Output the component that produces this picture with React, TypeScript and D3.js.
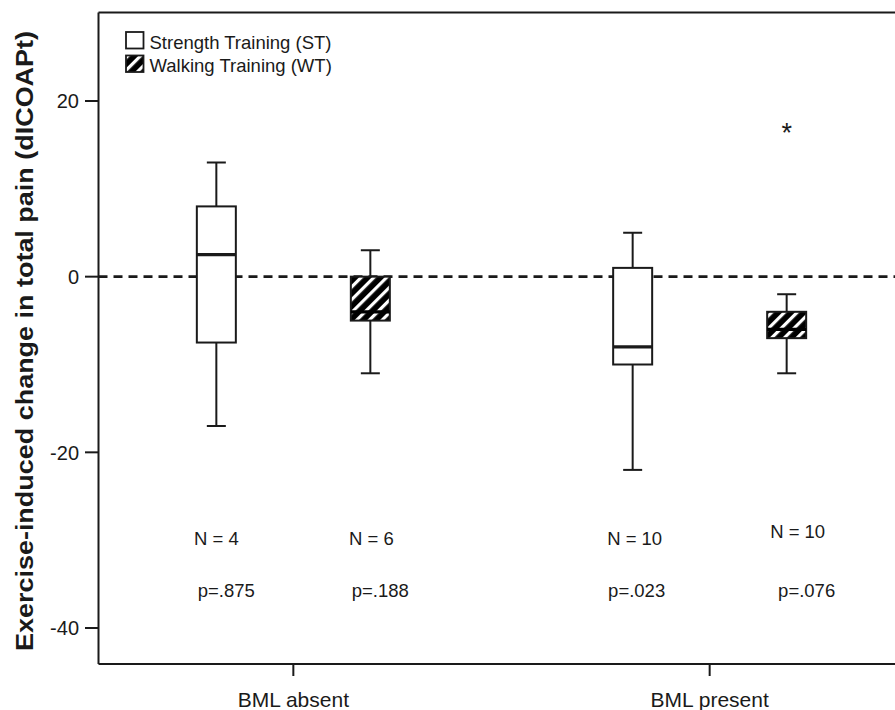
import React from "react";
import * as d3 from "d3";

// ---- data ----
const categories = ["BML absent", "BML present"];
const series = ["ST", "WT"];
const seriesLabels = ["Strength Training (ST)", "Walking Training (WT)"];
const boxGroup = ["BML absent", "BML absent", "BML present", "BML present"];
const boxSeries = ["ST", "WT", "ST", "WT"];
const whiskerMin = [-17, -11, -22, -11];
const q1 = [-7.5, -5, -10, -7];
const median = [2.5, -4, -8, -6];
const q3 = [8, 0, 1, -4];
const whiskerMax = [13, 3, 5, -2];
const outlierValues = [[], [], [], [17]];
const nLabels = ["N = 4", "N = 6", "N = 10", "N = 10"];
const pLabels = ["p=.875", "p=.188", "p=.023", "p=.076"];
const yTicks = [-40, -20, 0, 20];
const yTitle = "Exercise-induced change in total pain (dICOAPt)";

// ---- layout ----
const W = 895;
const H = 710;
const LEFT = 98.5;
const RIGHT = 904.5;
const TOP = 12.5;
const BOTTOM = 664;
const BOX_W = 39;
const CAP_W = 19;
const nDx = [0, 1, 2, 11];
const nDy = [0, 0, 0, -7];
const pDx = [10, 10, 4, 20];
const FONT = "Arial, 'Liberation Sans', Helvetica, sans-serif";
const INK = "#1a1a1a";

export default function App() {
  const y = d3.scaleLinear().domain([-40, 20]).range([628, 101]);
  const x0 = d3.scalePoint<string>().domain(categories).range([LEFT, RIGHT]).padding(0.468);
  const x1 = d3.scalePoint<string>().domain(series).range([-77, 77]);
  const cx = (i: number) => (x0(boxGroup[i]) as number) + (x1(boxSeries[i]) as number);

  return (
    <svg
      width={W}
      height={H}
      style={{ position: "absolute", left: 0, top: 0, background: "#fff" }}
      fontFamily={FONT}
    >
      <defs>
        <pattern id="hatch" patternUnits="userSpaceOnUse" width="9" height="9" patternTransform="rotate(45)">
          <rect x="0" y="0" width="9" height="9" fill="#000" />
          <rect x="0" y="0" width="3.2" height="9" fill="#fff" />
        </pattern>
        <clipPath id="plotclip">
          <rect x={LEFT} y={TOP} width={RIGHT - LEFT} height={BOTTOM - TOP} />
        </clipPath>
      </defs>
      <rect x={0} y={0} width={W} height={H} fill="#fff" />

      {/* frame */}
      <line x1={LEFT} x2={W} y1={TOP} y2={TOP} stroke={INK} strokeWidth={2} />
      <line x1={LEFT} x2={LEFT} y1={TOP} y2={BOTTOM} stroke={INK} strokeWidth={2} />
      <line x1={LEFT} x2={W} y1={BOTTOM} y2={BOTTOM} stroke={INK} strokeWidth={2} />

      {/* y ticks */}
      {yTicks.map((t) => (
        <g key={t}>
          <line x1={LEFT - 13.5} x2={LEFT} y1={y(t)} y2={y(t)} stroke={INK} strokeWidth={2} />
          <text x={79} y={y(t)} dy="0.36em" textAnchor="end" fontSize={20} fill={INK}>
            {t}
          </text>
        </g>
      ))}

      {/* x ticks */}
      {categories.map((c) => (
        <g key={c}>
          <line x1={x0(c)} x2={x0(c)} y1={BOTTOM} y2={BOTTOM + 12} stroke={INK} strokeWidth={2} />
          <text x={x0(c)} y={707} textAnchor="middle" fontSize={21} fill={INK}>
            {c}
          </text>
        </g>
      ))}

      {/* y title */}
      <text
        transform={`translate(33, 341) rotate(-90)`}
        textAnchor="middle"
        fontSize={24}
        fontWeight="bold"
        fill={INK}
        textLength={620}
        lengthAdjust="spacingAndGlyphs"
      >
        {yTitle}
      </text>

      {/* zero reference line */}
      <line
        x1={LEFT}
        x2={W}
        y1={y(0)}
        y2={y(0)}
        stroke={INK}
        strokeWidth={2.6}
        strokeDasharray="9,6"
      />

      {/* boxes */}
      <g clipPath="url(#plotclip)">
        {boxGroup.map((g, i) => {
          const c = cx(i);
          const hatched = boxSeries[i] === "WT";
          return (
            <g key={i}>
              <line x1={c} x2={c} y1={y(whiskerMax[i])} y2={y(q3[i])} stroke={INK} strokeWidth={2} />
              <line x1={c} x2={c} y1={y(q1[i])} y2={y(whiskerMin[i])} stroke={INK} strokeWidth={2} />
              <line x1={c - CAP_W / 2} x2={c + CAP_W / 2} y1={y(whiskerMax[i])} y2={y(whiskerMax[i])} stroke={INK} strokeWidth={2} />
              <line x1={c - CAP_W / 2} x2={c + CAP_W / 2} y1={y(whiskerMin[i])} y2={y(whiskerMin[i])} stroke={INK} strokeWidth={2} />
              <rect
                x={c - BOX_W / 2}
                y={y(q3[i])}
                width={BOX_W}
                height={y(q1[i]) - y(q3[i])}
                fill={hatched ? "url(#hatch)" : "#fff"}
                stroke={INK}
                strokeWidth={2}
              />
              <line
                x1={c - BOX_W / 2}
                x2={c + BOX_W / 2}
                y1={y(median[i])}
                y2={y(median[i])}
                stroke={hatched ? "#000" : INK}
                strokeWidth={3.2}
              />
              {outlierValues[i].map((v, k) => (
                <text key={k} x={c} y={y(v) + 15} textAnchor="middle" fontSize={27} fill={INK}>
                  *
                </text>
              ))}
              <text x={c + nDx[i]} y={545 + nDy[i]} textAnchor="middle" fontSize={18.5} fill={INK}>
                {nLabels[i]}
              </text>
              <text x={c + pDx[i]} y={597} textAnchor="middle" fontSize={18.5} fill={INK}>
                {pLabels[i]}
              </text>
            </g>
          );
        })}
      </g>

      {/* legend */}
      {series.map((s, i) => (
        <g key={s} transform={`translate(126, ${32 + i * 23.5})`}>
          <rect
            x={0}
            y={0}
            width={17.5}
            height={16.5}
            fill={s === "WT" ? "url(#hatch)" : "#fff"}
            stroke={INK}
            strokeWidth={1.8}
          />
          <text x={23.5} y={16.5} fontSize={18.5} fill={INK}>
            {seriesLabels[i]}
          </text>
        </g>
      ))}
    </svg>
  );
}
